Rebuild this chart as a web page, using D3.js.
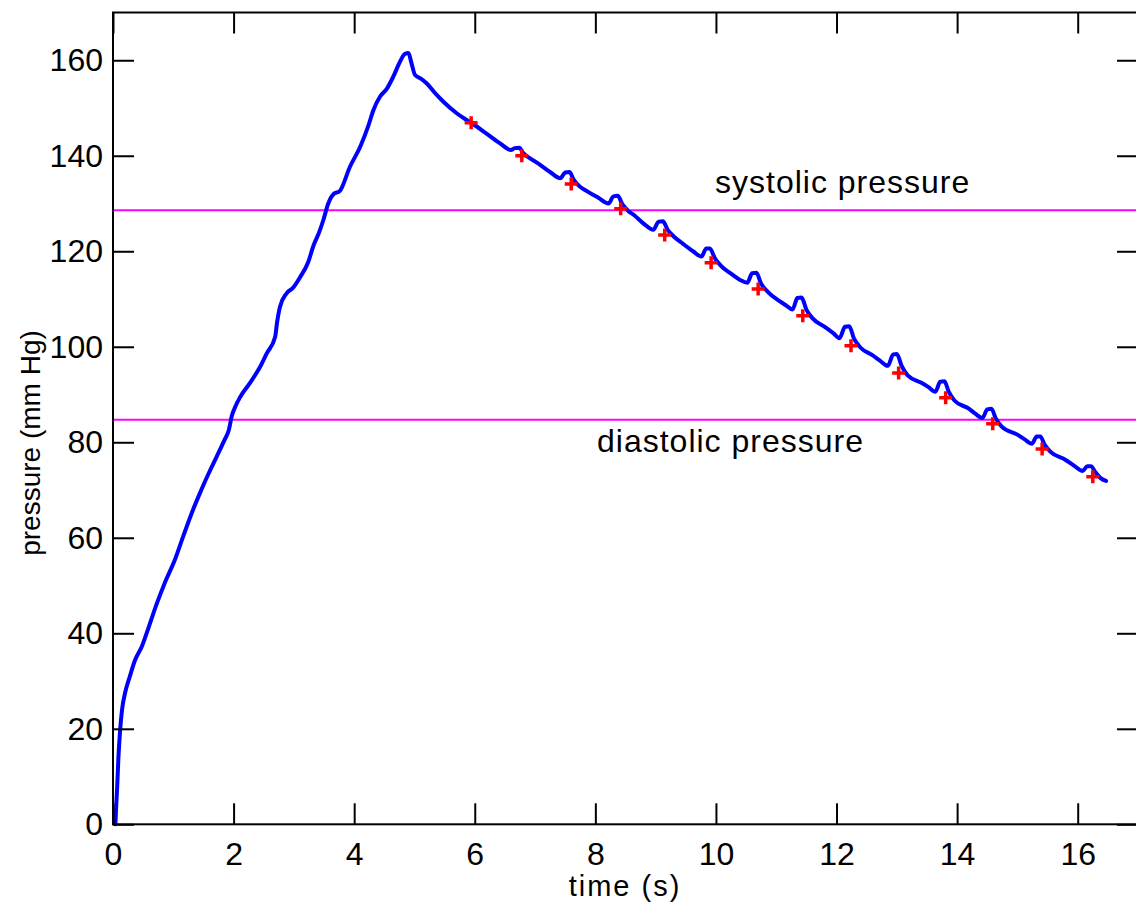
<!DOCTYPE html>
<html>
<head>
<meta charset="utf-8">
<script src="https://cdn.jsdelivr.net/npm/d3@7"></script>
<style>
body { margin: 0; background: #fff; }
svg text { font-family: "Liberation Sans", Arial, Helvetica, sans-serif; }
</style>
</head>
<body>
<script>
// pressure trace (time in s, pressure in mm Hg)
var traceTime = [0.04, 0.05, 0.07, 0.09, 0.12, 0.15, 0.20, 0.28, 0.36, 0.48, 0.59, 0.72, 0.86, 1.03,
	1.17, 1.30, 1.44, 1.58, 1.72, 1.85, 1.92, 1.97, 2.03, 2.11, 2.27, 2.44, 2.55, 2.69, 2.72, 2.77,
	2.88, 2.99, 3.10, 3.24, 3.32, 3.42, 3.49, 3.57, 3.66, 3.76, 3.93, 4.10, 4.23, 4.32, 4.43, 4.54,
	4.65, 4.76, 4.84, 4.90, 4.95, 5.01, 5.10, 5.20, 5.35, 5.48, 5.70, 5.85, 5.95, 6.20, 6.42,
	6.60, 6.66, 6.74, 6.80, 6.90, 7.05, 7.25,
	7.42, 7.50, 7.57, 7.64, 7.72, 7.86, 8.05,
	8.22, 8.30, 8.37, 8.45, 8.55, 8.65, 8.80,
	8.96, 9.05, 9.12, 9.20, 9.30, 9.45, 9.62,
	9.76, 9.84, 9.90, 9.98, 10.08, 10.25, 10.40,
	10.52, 10.60, 10.67, 10.75, 10.86, 11.05, 11.17,
	11.27, 11.35, 11.42, 11.50, 11.60, 11.80, 11.95,
	12.05, 12.14, 12.21, 12.29, 12.40, 12.60, 12.72,
	12.85, 12.94, 13.00, 13.08, 13.18, 13.40, 13.52,
	13.64, 13.72, 13.79, 13.86, 13.96, 14.20, 14.30,
	14.42, 14.50, 14.57, 14.64, 14.74, 15.00, 15.12,
	15.24, 15.32, 15.38, 15.45, 15.55, 15.80, 15.95,
	16.08, 16.16, 16.22, 16.29, 16.38, 16.47];
var tracePressure = [0, 3, 8, 14, 20, 24, 27.5, 31, 34.2, 37.3, 41.2, 46, 50.6, 55.5,
	60.5, 65, 69.3, 73.3, 77, 80.5, 82.5, 85.5, 87.5, 89.5, 92.4, 95.8, 98.6, 102.1, 105, 108.4,
	111.2, 112.4, 114.5, 117.8, 121, 124, 126.6, 130, 132, 132.6, 137.7, 141.9, 146.1, 149.6, 152.4, 154,
	156.6, 159.7, 161.3, 161.5, 159.4, 156.9, 156.2, 155.2, 153, 151.3, 148.9, 147.6, 146.8, 144.6, 142.6,
	141.2, 141.6, 141.7, 140.6, 139.6, 138.4, 136.6,
	135.3, 136.5, 136.6, 135.0, 133.8, 132.6, 131.2,
	130.0, 131.5, 131.6, 129.8, 128.4, 127.5, 125.8,
	124.5, 126.2, 126.3, 124.5, 123.1, 121.6, 120.0,
	118.9, 120.6, 120.6, 118.6, 117.0, 115.3, 114.0,
	113.4, 115.4, 115.5, 113.2, 111.5, 109.6, 108.6,
	107.8, 110.2, 110.3, 107.8, 106.0, 104.2, 102.8,
	101.8, 104.2, 104.3, 101.7, 99.8, 98.2, 97.1,
	96.0, 98.4, 98.5, 96.0, 94.0, 92.5, 91.6,
	90.6, 92.7, 92.8, 90.6, 88.7, 87.0, 86.0,
	85.1, 86.9, 87.0, 85.0, 83.3, 81.6, 80.6,
	79.7, 81.2, 81.2, 79.5, 78.0, 76.3, 75.0,
	74.0, 75.0, 75.0, 73.8, 72.5, 71.9];

// detected beats (red crosses)
var beatTime = [5.94, 6.78, 7.60, 8.42, 9.15, 9.92, 10.70, 11.44, 12.24, 13.03, 13.81, 14.59, 15.41, 16.25];
var beatPressure = [146.9, 140.0, 134.1, 128.9, 123.4, 117.6, 112.1, 106.5, 100.2, 94.5, 89.3, 83.9, 78.6, 72.8];

var systolic = 128.6;
var diastolic = 84.7;

var xTicks = [0, 2, 4, 6, 8, 10, 12, 14, 16];
var yTicks = [0, 20, 40, 60, 80, 100, 120, 140, 160];

var w = 1136;
var h = 907;
var padLeft = 113, padRight = 1138, padTop = 12.5, padBottom = 824.3;

var svg = d3.select("body")
	.append("svg")
	.attr("width", w)
	.attr("height", h);

var xScale = d3.scaleLinear()
	.domain([0, 17])
	.range([padLeft, padRight]);

var yScale = d3.scaleLinear()
	.domain([0, 170])
	.range([padBottom, padTop]);

// reference lines
svg.selectAll("line.ref")
	.data([systolic, diastolic])
	.enter()
	.append("line")
	.attr("class", "ref")
	.attr("x1", xScale(0))
	.attr("x2", xScale(17))
	.attr("y1", function(d){ return yScale(d); })
	.attr("y2", function(d){ return yScale(d); })
	.attr("stroke", "#ff00ff")
	.attr("stroke-width", 2);

// trace
var trace = traceTime.map(function(t, i){ return [t, tracePressure[i]]; });
var line = d3.line()
	.curve(d3.curveMonotoneX)
	.x(function(d){ return xScale(d[0]); })
	.y(function(d){ return yScale(d[1]); });

svg.append("path")
	.datum(trace)
	.attr("d", line)
	.attr("fill", "none")
	.attr("stroke", "#0000ff")
	.attr("stroke-width", 4)
	.attr("stroke-linejoin", "round")
	.attr("stroke-linecap", "round");

// beat markers
var beats = beatTime.map(function(t, i){ return [t, beatPressure[i]]; });
svg.selectAll("path.beat")
	.data(beats)
	.enter()
	.append("path")
	.attr("class", "beat")
	.attr("d", "M-6.5,0H6.5M0,-6.5V6.5")
	.attr("transform", function(d){
		return "translate(" + xScale(d[0]) + "," + yScale(d[1]) + ")";
	})
	.attr("stroke", "#ff0000")
	.attr("stroke-width", 3.5)
	.attr("fill", "none");

// axes, ticks pointing inward
var xAxis = d3.axisBottom(xScale).tickValues(xTicks).tickSizeInner(-21).tickSizeOuter(0).tickPadding(18);
var yAxis = d3.axisLeft(yScale).tickValues(yTicks).tickSizeInner(-21).tickSizeOuter(0).tickPadding(10);
var xTop = d3.axisTop(xScale).tickValues(xTicks).tickSizeInner(-21).tickSizeOuter(0).tickFormat("");
var yRight = d3.axisRight(yScale).tickValues(yTicks).tickSizeInner(-21).tickSizeOuter(0).tickFormat("");

function styleAxis(g){
	g.select(".domain").remove();
	g.selectAll(".tick line").attr("stroke", "#000").attr("stroke-width", 2);
	g.selectAll(".tick text").attr("fill", "#000").style("font-size", "32px")
		.style("font-family", "'Liberation Sans', Arial, sans-serif");
}

svg.append("g").attr("transform", "translate(0," + padBottom + ")").call(xAxis).call(styleAxis);
svg.append("g").attr("transform", "translate(" + padLeft + ",0)").call(yAxis).call(styleAxis);
svg.append("g").attr("transform", "translate(0," + padTop + ")").call(xTop).call(styleAxis);
svg.append("g").attr("transform", "translate(" + padRight + ",0)").call(yRight).call(styleAxis);

svg.append("rect")
	.attr("x", padLeft)
	.attr("y", padTop)
	.attr("width", padRight - padLeft)
	.attr("height", padBottom - padTop)
	.attr("fill", "none")
	.attr("stroke", "#000")
	.attr("stroke-width", 2);

// labels
svg.append("text")
	.attr("x", 625)
	.attr("y", 896)
	.attr("text-anchor", "middle")
	.style("font-size", "29px")
	.style("letter-spacing", "2px")
	.text("time (s)");

svg.append("text")
	.attr("transform", "translate(40,443) rotate(-90)")
	.attr("text-anchor", "middle")
	.style("font-size", "28px")
	.text("pressure (mm Hg)");

svg.append("text")
	.attr("x", 715)
	.attr("y", 193)
	.style("font-size", "32px")
	.style("letter-spacing", "1px")
	.text("systolic pressure");

svg.append("text")
	.attr("x", 597)
	.attr("y", 452)
	.style("font-size", "32px")
	.style("letter-spacing", "1px")
	.text("diastolic pressure");
</script>
</body>
</html>
